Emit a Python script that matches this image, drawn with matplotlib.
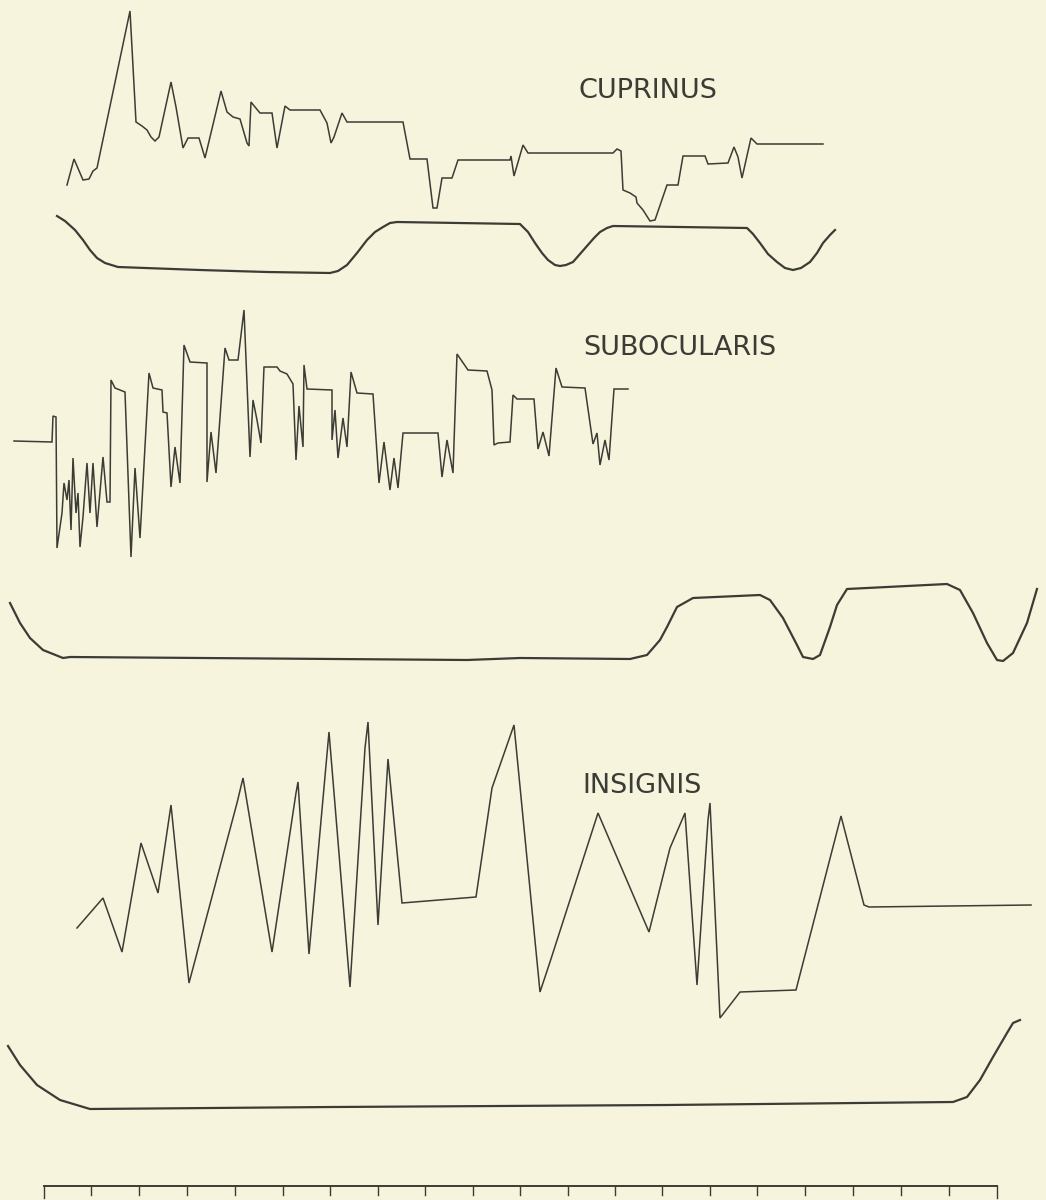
import matplotlib.pyplot as plt

# traces (x along the record, y downward like the page)
cup_x = [67, 74, 83, 89, 93, 97, 130, 136, 142, 147, 151, 155, 159, 171, 176, 183, 188, 199, 205,
         221, 227, 233, 240, 247, 249, 251, 255, 260, 272, 277, 285, 290, 320, 327, 331, 334, 342,
         347, 403, 410, 427, 433, 437, 442, 452, 458, 510, 511, 514, 523, 528, 613, 617, 621, 623,
         630, 636, 637, 643, 650, 655, 667, 678, 683, 705, 708, 728, 734, 738, 742, 751, 757, 823]
cup_y = [185, 159, 180, 179, 171, 168, 11, 122, 126, 130, 137, 141, 137, 82, 107, 148, 138, 138, 158,
         91, 112, 117, 119, 143, 146, 102, 107, 113, 113, 148, 106, 110, 110, 123, 143, 137, 113,
         122, 122, 159, 159, 208, 208, 178, 178, 160, 160, 156, 176, 145, 153, 153, 149, 151, 190,
         193, 197, 203, 210, 221, 220, 185, 185, 156, 156, 164, 163, 147, 157, 178, 138, 144, 144]

cup_env_x = [57, 65, 75, 83, 90, 97, 105, 118, 200, 267, 330, 338, 347, 357, 367, 375, 383, 390, 397,
             520, 528, 535, 542, 548, 555, 560, 566, 573, 580, 587, 594, 600, 607, 613, 747, 753,
             760, 768, 777, 785, 793, 801, 810, 817, 823, 830, 835]
cup_env_y = [216, 221, 230, 240, 250, 258, 263, 267, 270, 272, 273, 271, 265, 253, 240, 232, 227, 223,
             222, 224, 232, 243, 253, 260, 265, 266, 265, 262, 254, 246, 238, 232, 228, 226, 228,
             234, 243, 254, 262, 268, 270, 268, 262, 253, 243, 235, 230]

sub_x = [14, 52, 53, 56, 57, 62, 64, 67, 69, 71, 73, 76, 78, 80, 83, 87, 90, 93, 97, 103, 107, 110,
         111, 115, 125, 131, 135, 140, 149, 153, 162, 163, 167, 171, 175, 180, 184, 190, 207, 207,
         211, 216, 225, 229, 238, 244, 250, 253, 257, 261, 264, 277, 280, 287, 293, 296, 299, 303,
         304, 307, 332, 332, 335, 338, 343, 347, 351, 357, 373, 379, 384, 390, 394, 398, 403, 438,
         442, 447, 453, 457, 468, 487, 492, 494, 498, 510, 513, 517, 534, 538, 543, 549, 556, 562,
         585, 593, 597, 600, 605, 609, 614, 628]
sub_y = [441, 442, 416, 417, 548, 513, 483, 500, 480, 530, 458, 513, 493, 547, 517, 463, 513, 463,
         527, 457, 502, 502, 380, 388, 392, 557, 468, 538, 373, 388, 390, 412, 413, 487, 447, 483,
         345, 362, 363, 482, 432, 473, 348, 360, 360, 310, 457, 400, 420, 443, 367, 367, 371, 374,
         384, 460, 406, 447, 365, 389, 390, 440, 410, 458, 418, 447, 372, 393, 394, 483, 442, 490,
         458, 488, 433, 433, 477, 440, 473, 354, 370, 371, 390, 445, 443, 442, 395, 399, 399, 449,
         432, 456, 368, 387, 388, 444, 433, 465, 440, 460, 389, 389]

sub_env_x = [10, 20, 30, 43, 63, 70, 467, 520, 630, 647, 660, 667, 677, 693, 760, 770, 783, 797, 803,
             813, 820, 830, 837, 847, 947, 960, 973, 987, 997, 1003, 1013, 1027, 1037]
sub_env_y = [603, 623, 638, 650, 658, 657, 660, 658, 659, 655, 640, 627, 607, 598, 595, 600, 618, 645,
             657, 659, 655, 627, 605, 589, 584, 590, 613, 643, 660, 661, 653, 623, 589]

ins_x = [77, 103, 122, 141, 158, 171, 189, 237, 243, 272, 296, 298, 309, 329, 350, 365, 368, 378,
         388, 402, 476, 492, 514, 540, 550, 598, 649, 670, 685, 697, 708, 710, 720, 740, 796, 841,
         864, 869, 1031]
ins_y = [928, 898, 952, 843, 893, 805, 983, 803, 778, 952, 793, 782, 954, 732, 987, 748, 722, 925,
         759, 903, 897, 788, 725, 992, 962, 813, 932, 848, 813, 985, 820, 803, 1018, 992, 990, 816,
         905, 907, 905]

ins_env_x = [8, 20, 37, 60, 90, 333, 667, 953, 967, 980, 993, 1007, 1013, 1020]
ins_env_y = [1046, 1065, 1085, 1100, 1109, 1107, 1105, 1102, 1097, 1080, 1057, 1033, 1023, 1020]

labels = ['CUPRINUS', 'SUBOCULARIS', 'INSIGNIS']
label_x = [648, 680, 642]
label_y = [91, 348, 786]

scale_x = [44, 91, 139, 187, 235, 283, 330, 378, 425, 473, 520, 568, 615, 662, 710, 757, 805, 853,
           901, 949, 997]
scale_y = 1186

paper = '#f6f4dc'
ink = '#3c3c36'

fig = plt.figure(figsize=(10.46, 12), dpi=100, facecolor=paper)
ax = fig.add_axes([0, 0, 1, 1])
ax.set_facecolor(paper)
ax.set_xlim(0, 1046)
ax.set_ylim(1200, 0)
ax.axis('off')

for xs, ys in [(cup_x, cup_y), (sub_x, sub_y), (ins_x, ins_y)]:
    ax.plot(xs, ys, color=ink, lw=1.1, solid_joinstyle='miter')
for xs, ys in [(cup_env_x, cup_env_y), (sub_env_x, sub_env_y), (ins_env_x, ins_env_y)]:
    ax.plot(xs, ys, color=ink, lw=1.6, solid_joinstyle='round')

for lab, lx, ly in zip(labels, label_x, label_y):
    ax.text(lx, ly, lab, ha='center', va='center', fontsize=19.5, color=ink,
            family='DejaVu Sans')

# time scale along the bottom
ax.plot([scale_x[0], scale_x[-1]], [scale_y, scale_y], color=ink, lw=1.4)
for i, tx in enumerate(scale_x):
    tick_len = 12 if i in (0, len(scale_x) - 1) else 9
    ax.plot([tx, tx], [scale_y, scale_y + tick_len], color=ink, lw=1.0)

fig.savefig('out.png', dpi=100, facecolor=paper)
